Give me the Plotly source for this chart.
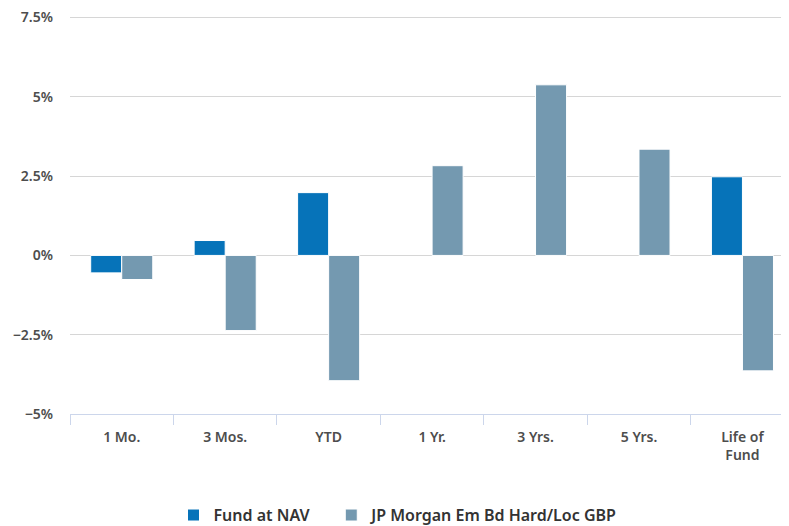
import plotly.graph_objects as go

categories = ["1 Mo.", "3 Mos.", "YTD", "1 Yr.", "3 Yrs.", "5 Yrs.", "Life of<br>Fund"]
fund_nav = [-0.55, 0.47, 1.98, None, None, None, 2.48]
benchmark = [-0.76, -2.37, -3.95, 2.83, 5.38, 3.35, -3.64]
ytick_vals = [-5, -2.5, 0, 2.5, 5, 7.5]
ytick_text = ["−5%", "−2.5%", "0%", "2.5%", "5%", "7.5%"]

font_family = "Noto Sans, DejaVu Sans, sans-serif"
sp = "\u00a0" * 4

fig = go.Figure()
fig.add_trace(go.Bar(
    x=categories, y=fund_nav, name="Fund at NAV" + sp,
    marker=dict(color="#0673b9", line=dict(color="#ffffff", width=1)),
))
fig.add_trace(go.Bar(
    x=categories, y=benchmark, name="JP Morgan Em Bd Hard/Loc GBP",
    marker=dict(color="#7499b0", line=dict(color="#ffffff", width=1)),
))

fig.update_layout(
    width=781, height=518,
    margin=dict(l=62, r=0, t=8, b=112, autoexpand=False),
    paper_bgcolor="white", plot_bgcolor="white",
    barmode="group", bargap=0.4, bargroupgap=0.0,
    font=dict(family=font_family, color="#4d4d4d"),
    showlegend=True,
    legend=dict(
        orientation="h", xref="container", yref="container",
        x=0.5, xanchor="center", y=0.021, yanchor="middle",
        font=dict(size=16, color="#333333", weight=600),
        itemwidth=30, tracegroupgap=0,
    ),
    xaxis=dict(
        type="category", range=[-0.5, 6.45],
        showline=True, linecolor="#ccd6eb", linewidth=1,
        ticks="outside", ticklen=10, tickcolor="#ccd6eb", tickson="boundaries",
        ticklabelstandoff=10,
        showgrid=False,
        tickfont=dict(size=14, color="#4d4d4d", weight=600),
        fixedrange=True,
    ),
    yaxis=dict(
        range=[-5, 7.55],
        tickvals=ytick_vals, ticktext=ytick_text,
        showgrid=True, gridcolor="#d6d6d6", gridwidth=1,
        zeroline=False, showline=False,
        ticks="", ticklabelstandoff=16, ticklabeloverflow="allow",
        tickfont=dict(size=14, color="#4d4d4d", weight=600),
        fixedrange=True,
    ),
)

fig.write_html("out.html")
